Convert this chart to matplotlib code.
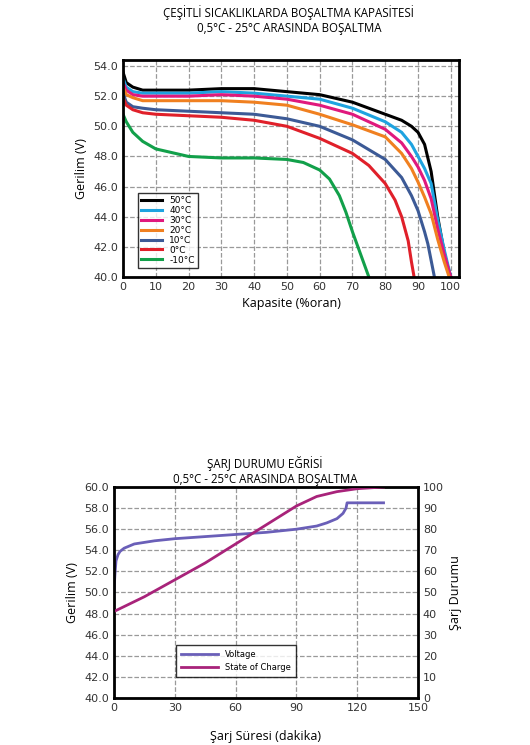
import matplotlib
matplotlib.use("Agg")
import matplotlib.pyplot as plt
import numpy as np

temps = ["50°C", "40°C", "30°C", "20°C", "10°C", "0°C", "-10°C"]
colors = ["#000000", "#1ea3e0", "#e0197d", "#f08020", "#3c5a96", "#e0202a", "#12a04a"]
cap_x = [
    [0, 1, 3, 6, 10, 20, 30, 40, 50, 60, 70, 80, 85, 88, 90, 92, 94, 95, 96, 97, 98, 99, 100],
    [0, 1, 3, 6, 10, 20, 30, 40, 50, 60, 70, 80, 85, 88, 90, 92, 94, 95, 96, 98, 100],
    [0, 1, 3, 6, 10, 20, 30, 40, 50, 60, 70, 80, 85, 88, 90, 92, 94, 96, 98, 100],
    [0, 1, 3, 6, 10, 20, 30, 40, 50, 60, 70, 80, 85, 88, 90, 92, 94, 96, 98, 99.5],
    [0, 1, 3, 6, 10, 20, 30, 40, 50, 60, 70, 80, 85, 88, 90, 92, 93, 94, 95],
    [0, 1, 3, 6, 10, 20, 30, 40, 50, 60, 70, 75, 80, 83, 85, 87, 88, 88.8],
    [0, 1, 3, 6, 10, 20, 30, 40, 50, 55, 60, 63, 66, 68, 70, 72, 74, 75],
]
cap_y = [
    [53.6, 52.9, 52.6, 52.4, 52.4, 52.4, 52.5, 52.5, 52.3, 52.1, 51.6, 50.8, 50.4, 50.0, 49.6, 48.8, 47.0, 45.5, 44.0, 42.8, 41.6, 40.7, 40.0],
    [53.2, 52.6, 52.3, 52.2, 52.2, 52.2, 52.3, 52.2, 52.0, 51.8, 51.2, 50.3, 49.6, 48.8, 48.0, 47.2, 46.2, 45.0, 43.8, 41.8, 40.0],
    [52.9, 52.4, 52.1, 52.0, 52.0, 52.0, 52.1, 52.0, 51.8, 51.4, 50.8, 49.8, 48.9, 48.0, 47.3, 46.4, 45.2, 43.2, 41.5, 40.0],
    [52.6, 52.1, 51.9, 51.7, 51.7, 51.7, 51.7, 51.6, 51.4, 50.8, 50.1, 49.3, 48.2, 47.2, 46.3, 45.3, 44.2, 42.5, 41.0, 40.0],
    [52.2, 51.6, 51.3, 51.2, 51.1, 51.0, 50.9, 50.8, 50.5, 50.0, 49.1, 47.8, 46.6, 45.4, 44.4, 43.0, 42.2, 41.1, 40.0],
    [51.9, 51.4, 51.1, 50.9, 50.8, 50.7, 50.6, 50.4, 50.0, 49.2, 48.2, 47.4, 46.2, 45.1, 44.0, 42.4, 41.0, 40.0],
    [50.8, 50.3, 49.6, 49.0, 48.5, 48.0, 47.9, 47.9, 47.8, 47.6, 47.1, 46.5, 45.4, 44.3, 43.0, 41.8, 40.6, 40.0],
]

t_volt = [0, 0.5, 1, 2, 3, 5, 10, 20, 30, 45, 60, 75, 90, 100, 105, 110, 113, 114.5, 115, 120, 133]
volt = [50.2, 51.8, 53.0, 53.6, 53.9, 54.2, 54.6, 54.9, 55.1, 55.3, 55.5, 55.7, 56.0, 56.3, 56.6, 57.0, 57.5, 58.0, 58.5, 58.5, 58.5]
t_soc = [0, 15, 30, 45, 60, 75, 90, 100, 110, 120, 133]
soc = [41, 48, 56, 64, 73, 82, 91, 95.5, 97.8, 99.2, 100]

fig = plt.figure(figsize=(5.3, 7.45), dpi=100)
tfont = dict(family="Montserrat" if False else "Open Sans")

fig.text(0.545, 0.983, "ÇEŞİTLİ SICAKLIKLARDA BOŞALTMA KAPASİTESİ", ha="center", va="center", fontsize=8.3, **tfont)
fig.text(0.545, 0.962, "0,5°C - 25°C ARASINDA BOŞALTMA", ha="center", va="center", fontsize=8.3, **tfont)

ax1 = fig.add_axes([123/530, 1-277/745, (459-123)/530, (277-60)/745])
for xs, ys, c, l in zip(cap_x, cap_y, colors, temps):
    ax1.plot(xs, ys, color=c, lw=2.2, label=l)
ax1.set_xlim(0, 102.5)
ax1.set_ylim(40, 54.4)
ax1.set_xticks(range(0, 101, 10))
ax1.set_xticklabels(["0", "10", "20", "30", "40", "50", "60", "70", "80", "90", "100"])
ax1.set_yticks(np.arange(40, 55, 2))
ax1.set_yticklabels([f"{v:.1f}" for v in np.arange(40, 55, 2)])
ax1.grid(True, ls="--", color="#999999", lw=0.9)
ax1.tick_params(labelsize=8, length=0, colors="#333333")
for s in ax1.spines.values():
    s.set_linewidth(2)
ax1.set_xlabel("Kapasite (%oran)", fontsize=9, **tfont)
ax1.set_ylabel("Gerilim (V)", fontsize=9, **tfont)
leg = ax1.legend(loc="lower left", bbox_to_anchor=(0.03, 0.02), fontsize=6.5, frameon=True,
                 fancybox=False, edgecolor="black", handlelength=2.3, labelspacing=0.1)
leg.get_frame().set_linewidth(1)

fig.text(0.5, 0.378, "ŞARJ DURUMU EĞRİSİ", ha="center", va="center", fontsize=8.3, **tfont)
fig.text(0.5, 0.357, "0,5°C - 25°C ARASINDA BOŞALTMA", ha="center", va="center", fontsize=8.3, **tfont)

ax2 = fig.add_axes([114/530, 1-698/745, (418-114)/530, (698-487)/745])
lv, = ax2.plot(t_volt, volt, color="#6a5fb8", lw=2, label="Voltage")
ax2.set_xlim(0, 150)
ax2.set_ylim(40, 60)
ax2.set_xticks(range(0, 151, 30))
ax2.set_yticks(np.arange(40, 61, 2))
ax2.set_yticklabels([f"{v:.1f}" for v in np.arange(40, 61, 2)])
ax2.grid(True, ls="--", color="#999999", lw=0.9)
ax2.tick_params(labelsize=8, length=0, colors="#333333")
for s in ax2.spines.values():
    s.set_linewidth(2)
ax2.set_xlabel("Şarj Süresi (dakika)", fontsize=9, labelpad=12, **tfont)
ax2.set_ylabel("Gerilim (V)", fontsize=9, **tfont)
ax3 = ax2.twinx()
ls_, = ax3.plot(t_soc, soc, color="#a8237a", lw=2, label="State of Charge")
ax3.set_ylim(0, 100)
ax3.set_yticks(range(0, 101, 10))
ax3.tick_params(labelsize=8, length=0, colors="#333333")
ax3.set_ylabel("Şarj Durumu", fontsize=9, **tfont)
leg2 = ax2.legend(handles=[lv, ls_], loc="lower left", bbox_to_anchor=(0.19, 0.08), fontsize=6,
                  frameon=True, fancybox=False, edgecolor="black", handlelength=4.5, borderpad=0.6)
leg2.get_frame().set_linewidth(1)

fig.savefig("out.png", dpi=100)
